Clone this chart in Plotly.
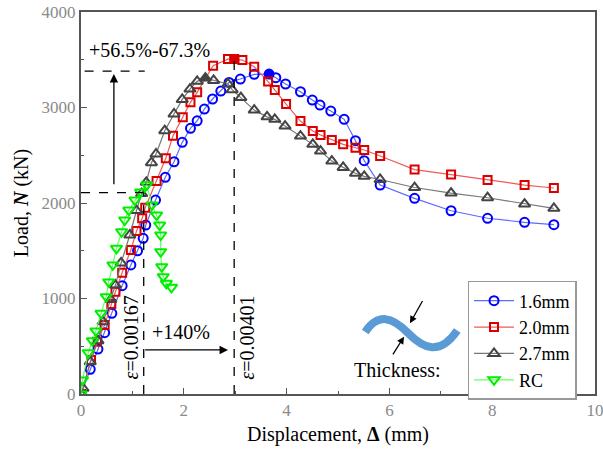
import plotly.graph_objects as go

# Load–displacement curves (displacement in mm, load in kN)
disp_16 = [0, 0.18, 0.33, 0.46, 0.60, 0.80, 0.97, 1.10, 1.21, 1.26, 1.45, 1.64, 1.81, 1.97,
           2.13, 2.26, 2.40, 2.56, 2.72, 2.88, 3.10, 3.37, 3.66, 3.79, 3.98, 4.27, 4.50,
           4.65, 4.86, 5.12, 5.34, 5.51, 5.82, 6.49, 7.20, 7.91, 8.63, 9.20]
load_16 = [0, 259, 471, 642, 845, 1134, 1351, 1500, 1630, 1769, 2031, 2269, 2432, 2635,
           2782, 2861, 2984, 3089, 3172, 3263, 3298, 3347, 3350, 3312, 3246, 3165, 3078,
           3026, 2963, 2876, 2652, 2443, 2188, 2049, 1919, 1840, 1798, 1773]
peak_16 = 22

disp_20 = [0, 0.195, 0.31, 0.46, 0.59, 0.67, 0.80, 0.97, 1.08, 1.19, 1.25, 1.47, 1.65, 1.79,
           1.98, 2.13, 2.26, 2.57, 2.86, 2.98, 3.14, 3.37, 3.64, 3.77, 3.99, 4.27, 4.51,
           4.66, 4.88, 5.10, 5.34, 5.51, 5.82, 6.49, 7.20, 7.91, 8.63, 9.20]
load_20 = [0, 356, 548, 722, 942, 1071, 1270, 1508, 1707, 1840, 1951, 2230, 2468, 2704,
           2897, 3054, 3159, 3437, 3507, 3507, 3497, 3427, 3272, 3183, 3036, 2858, 2754,
           2712, 2659, 2614, 2579, 2555, 2492, 2350, 2298, 2241, 2188, 2157]
peak_20 = 19

disp_27 = [0, 0.04, 0.18, 0.33, 0.43, 0.58, 0.67, 0.78, 0.95, 1.08, 1.18, 1.27, 1.37, 1.46,
           1.63, 1.81, 1.97, 2.12, 2.26, 2.42, 2.58, 2.86, 2.94, 3.11, 3.37, 3.62, 3.77,
           3.97, 4.27, 4.51, 4.66, 4.88, 5.10, 5.34, 5.51, 5.82, 6.49, 7.20, 7.91, 8.63, 9.20]
load_27 = [0, 60, 338, 558, 757, 989, 1141, 1372, 1665, 1921, 2099, 2217, 2422, 2513,
           2757, 2932, 3085, 3193, 3274, 3308, 3284, 3246, 3187, 3104, 2973, 2902, 2876,
           2806, 2701, 2614, 2544, 2439, 2373, 2311, 2279, 2246, 2162, 2104, 2055, 1989, 1944]
peak_27 = 19

disp_rc = [0, 0.03, 0.14, 0.22, 0.29, 0.39, 0.49, 0.54, 0.62, 0.69, 0.79, 0.85, 0.93, 1.05,
           1.16, 1.28, 1.38, 1.47, 1.53, 1.55, 1.55, 1.57, 1.60, 1.66, 1.76]
load_rc = [0, 147, 432, 558, 660, 845, 1019, 1173, 1351, 1525, 1699, 1822, 1926, 2031,
           2115, 2190, 1980, 1874, 1769, 1665, 1490, 1333, 1228, 1159, 1117]

series_names = ["1.6mm", "2.0mm", "2.7mm", "RC"]
x_ticks = [0, 2, 4, 6, 8, 10]
y_ticks = [0, 1000, 2000, 3000, 4000]

FONT = "Liberation Serif"


def symbols(base, n, peak=None):
    out = [base + "-open"] * n
    if peak is not None:
        out[peak] = base
    return out


fig = go.Figure()

specs = [
    (disp_16, load_16, peak_16, "circle", "#0000FF", "#5A6BFF", 9),
    (disp_20, load_20, peak_20, "square", "#D90000", "#F05A5A", 8),
    (disp_27, load_27, peak_27, "triangle-up", "#444444", "#777777", 10),
    (disp_rc, load_rc, None, "triangle-down", "#00EE00", "#66FF66", 10),
]
for name, (xs, ys, pk, sym, mc, lc, sz) in zip(series_names, specs):
    fig.add_trace(go.Scatter(
        x=xs, y=ys, name=name, mode="lines+markers",
        line=dict(color=lc, width=1.2),
        marker=dict(symbol=symbols(sym, len(xs), pk), size=sz, color=mc,
                    line=dict(color=mc, width=2)),
    ))

# Reference dashed lines
dash = dict(color="black", width=1.3, dash="dash")
shapes = [
    dict(type="line", x0=0.07, x1=1.24, y0=3380, y1=3380, line=dash),
    dict(type="line", x0=0, x1=1.22, y0=2108, y1=2108, line=dash),
    dict(type="line", x0=1.22, x1=1.22, y0=0, y1=2108, line=dash),
    dict(type="line", x0=2.98, x1=2.98, y0=0, y1=3507, line=dash),
    # plate thickness sketch
    dict(type="path", path="M 5.53,650 C 5.78,850 6.05,810 6.36,640 S 6.98,400 7.32,665",
         line=dict(color="#5B9BD5", width=8)),
]

arrow = dict(axref="x", ayref="y", xref="x", yref="y", text="", showarrow=True,
             arrowhead=2, arrowwidth=1.3, arrowcolor="black")
annotations = [
    dict(x=0.64, y=3350, ax=0.64, ay=2180, arrowsize=1.3, **arrow),
    dict(x=2.86, y=461, ax=1.22, ay=461, arrowsize=1.3, **arrow),
    dict(x=6.40, y=740, ax=6.66, ay=990, arrowsize=1.1, **arrow),
    dict(x=6.285, y=600, ax=6.05, ay=400, arrowsize=1.1, **arrow),
    dict(x=1.33, y=3600, text="+56.5%-67.3%", showarrow=False, font=dict(size=20)),
    dict(x=1.955, y=649, text="+140%", showarrow=False, font=dict(size=20)),
    dict(x=0.97, y=590, text="<i>ε</i>=0.00167", textangle=-90, showarrow=False,
         font=dict(size=20)),
    dict(x=3.23, y=590, text="<i>ε</i>=0.00401", textangle=-90, showarrow=False,
         font=dict(size=20)),
    dict(x=6.15, y=251, text="Thickness:", showarrow=False, font=dict(size=20)),
]

axis_common = dict(
    showline=True, linecolor="#555555", linewidth=2, mirror=True,
    ticks="inside", ticklen=6, tickwidth=1.3, tickcolor="#555555",
    showgrid=False, zeroline=False, automargin=False, ticklabeloverflow="allow",
    tickfont=dict(family=FONT, size=17, color="#8A8A8A"),
)

fig.update_layout(
    width=603, height=453,
    margin=dict(l=81, r=8, t=12, b=59, autoexpand=False),
    paper_bgcolor="white", plot_bgcolor="white",
    font=dict(family=FONT, size=20, color="black"),
    xaxis=dict(range=[0, 10], tickvals=x_ticks,
               minor=dict(ticks="inside", ticklen=3, tickcolor="#555555", dtick=1),
               title=dict(text="Displacement, <b>Δ</b> (mm)", standoff=8,
                          font=dict(size=20)),
               **axis_common),
    yaxis=dict(range=[0, 4000], tickvals=y_ticks,
               minor=dict(ticks="inside", ticklen=3, tickcolor="#555555", dtick=500),
               title=dict(text="Load, <b><i>N</i></b> (kN)", standoff=8,
                          font=dict(size=20)),
               **axis_common),
    legend=dict(x=0.752, y=0.296, xanchor="left", yanchor="top",
                bgcolor="white", bordercolor="#999999", borderwidth=1.5,
                font=dict(family=FONT, size=18), tracegroupgap=0,
                itemwidth=40),
    shapes=shapes,
    annotations=annotations,
    showlegend=True,
)

fig.write_html("out.html")
